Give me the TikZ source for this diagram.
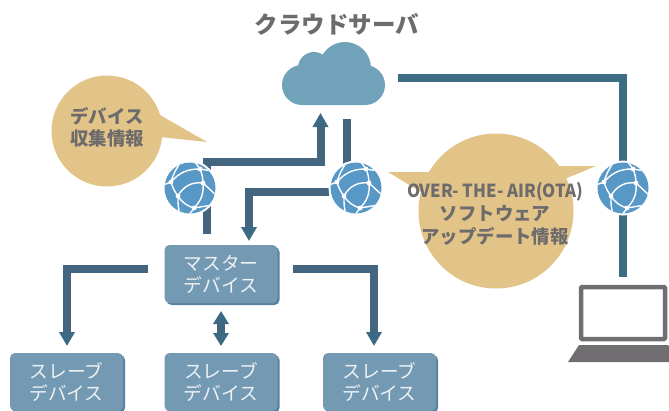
\documentclass[tikz,border=0pt]{standalone}
\usepackage{fontspec}
\setmainfont{Noto Sans CJK JP}
\usetikzlibrary{arrows.meta,shadows,calc}
\definecolor{tanc}{HTML}{E2C488}
\definecolor{linec}{HTML}{44657F}
\definecolor{linetc}{HTML}{3D6C85}
\definecolor{tipc}{HTML}{3C6A84}
\definecolor{cloudc}{HTML}{70A2B9}
\definecolor{globec}{HTML}{5898C7}
\definecolor{boxc}{HTML}{7499B2}
\definecolor{boxs}{HTML}{5882A0}
\definecolor{greyc}{HTML}{6D6B6C}
\definecolor{lapc}{HTML}{716E72}
\definecolor{boxt}{HTML}{EDF2F5}
\tikzset{
  devbox/.style={rounded corners=5pt,fill=boxc,minimum width=113pt,inner sep=0pt,align=center,
    text=boxt,font=\fontsize{18.7}{22}\selectfont,
    general shadow={shadow xshift=2pt,shadow yshift=-2pt,fill=boxs,rounded corners=5pt}},
  conn/.style={draw=linec,line width=8pt},
  connt/.style={draw=linetc,line width=8pt},
  arrowed/.style={conn,-{Triangle[width=15pt,length=14pt,color=tipc]}},
  twoarrow/.style={conn,{Triangle[width=15pt,length=13pt,color=tipc]}-{Triangle[width=15pt,length=13pt,color=tipc]}},
  bubble/.style={fill=tanc},
  bubtext/.style={text=greyc,font=\fontsize{18.4}{22}\selectfont\bfseries,align=center,inner sep=0pt},
  globeshape/.style={circle,fill=globec,minimum size=51pt,inner sep=0pt,outer sep=0pt},
  halo/.style={circle,fill=white,minimum size=55pt,inner sep=0pt},
  globe/.pic={
    \begin{scope}
      \clip (0,0) circle (25.5);
      \draw[white,line width=1.4pt]
        (-19,-6) to[bend left=25] (10,-19)
        (10,-19) to[bend left=10] (13,-5)
        (13,-5) to[bend left=25] (4,20)
        (4,20) to[bend left=20] (-12,8)
        (-12,8) to[bend left=10] (-19,-6)
        (-12,8) to[bend left=35] (13,-5)
        (-19,-6) -- (-27,-3)
        (-19,-6) to[bend left=10] (-9,-26)
        (10,-19) to[bend right=10] (3,-27)
        (10,-19) -- (22,-17)
        (13,-5) -- (27,8)
        (4,20) -- (22,17)
        (4,20) to[bend left=10] (-3,28)
        (-12,8) to[bend right=8] (-10,27);
      \foreach \p in {(-19,-6),(13,-5),(-12,8),(4,20),(10,-19)}
        \fill[white] \p circle (2.4);
    \end{scope}
  }
}
\begin{document}
\begin{tikzpicture}[x=1pt,y=-1pt]
\useasboundingbox (0,0) rectangle (669,410);
\clip (0,0) rectangle (669,410);

% title
\node[text=greyc,font=\fontsize{23.5}{26}\selectfont\bfseries,inner sep=0pt] (title) at (337,24) {クラウドサーバ};

% cloud
\node[inner sep=0pt,minimum size=0pt] (cloud) at (333,75) {};
\fill[cloudc] (302,65) -- (365,65) arc[start angle=-90,end angle=90,radius=20] -- (302,105) arc[start angle=90,end angle=270,radius=20] -- cycle;
\fill[cloudc] (314,68) circle (16);
\fill[cloudc] (345,68) circle (26);

% bubbles
\node[circle,bubble,minimum size=111pt,inner sep=0pt] (bub1) at (107,131) {};
\fill[bubble] (160,115) -- (207,142) -- (160,137) -- cycle;
\node[circle,bubble,minimum size=155pt,inner sep=0pt] (bub2) at (496,211) {};
\fill[bubble] (388,172) -- (432,172) -- (424,194) -- cycle;
\fill[bubble] (555,166) -- (596,166) -- (560,181) -- cycle;
\node[bubtext] (bub1t) at (107,127) {デバイス\\[-0.2pt]収集情報};
\node[bubtext,font=\fontsize{18}{22}\selectfont\bfseries] (bub2a) at (495,192) {\scalebox{0.93}[1]{OVER- THE- AIR(OTA)}};
\node[bubtext] (bub2b) at (495,214) {ソフトウェア};
\node[bubtext] (bub2c) at (495,236) {アップデート情報};

% boxes
\node[devbox,minimum height=58pt] (master) at (221,274) {マスター\\デバイス};
\node[devbox,minimum height=58pt] (slave1) at (66.5,382) {スレーブ\\デバイス};
\node[devbox,minimum height=58pt] (slave2) at (221,382) {スレーブ\\デバイス};
\node[devbox,minimum height=58pt] (slave3) at (379.5,382) {スレーブ\\デバイス};

% connector ends
\coordinate (upc) at (320.5,113);
\coordinate (upb) at (320.5,162);
\coordinate (upa) at (207,158);
\coordinate (upa2) at (203,162);
\coordinate (g1low) at (207,234);
\coordinate (dna) at (347,119);
\coordinate (dnb) at (347,165);
\coordinate (dnc) at (329,192);
\coordinate (dnd) at (249,192);
\coordinate (dne) at (249,241);
\coordinate (la) at (148,269);
\coordinate (lb) at (67,269);
\coordinate (lc) at (67,346);
\coordinate (ra) at (293,269);
\coordinate (rb) at (374,269);
\coordinate (rc) at (374,346);
\coordinate (da) at (221,311);
\coordinate (db) at (221,346);
\coordinate (ta) at (398,78);
\coordinate (tb) at (623,78);
\coordinate (tc) at (623,277);

% connectors
\draw[conn] (g1low) -- (upa);
\draw[arrowed] (upa2) -- (upb) -- (upc);
\draw[conn] (dna) -- (dnb);
\draw[arrowed] (dnc) -- (dnd) -- (dne);
\draw[arrowed] (la) -- (lb) -- (lc);
\draw[arrowed] (ra) -- (rb) -- (rc);
\draw[twoarrow] (da) -- (db);
\draw[connt] (ta) -- (tb) -- (tc);

% globes
\node[halo] (h1) at (190,188) {};
\node[globeshape] (g1) at (190,188) {};
\pic at (g1) {globe};
\node[halo] (h2) at (356,188) {};
\node[globeshape] (g2) at (356,188) {};
\pic at (g2) {globe};
\node[halo] (h3) at (623,188) {};
\node[globeshape] (g3) at (623,188) {};
\pic at (g3) {globe};

% laptop
\draw[lapc,line width=4.5pt,rounded corners=1pt] (581,287) rectangle (665,339);
\fill[lapc] (579,345) -- (668,345) -- (680,362) -- (568,362) -- cycle;
\end{tikzpicture}
\end{document}
